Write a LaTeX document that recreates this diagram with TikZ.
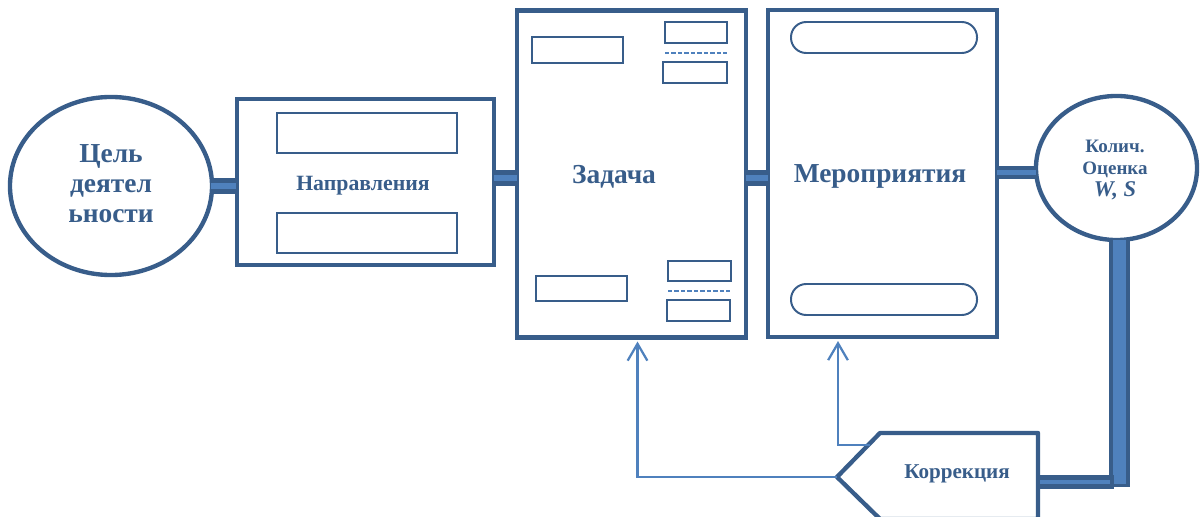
\documentclass[tikz,border=0pt]{standalone}
\usepackage{fontspec}
\setmainfont{Liberation Serif}
\usetikzlibrary{shapes.geometric,arrows.meta,calc}
\definecolor{dk}{RGB}{56,93,138}
\definecolor{lt}{RGB}{79,129,189}
\begin{document}
\begin{tikzpicture}[x=0.025cm,y=-0.025cm,
  bigbox/.style={draw=dk,line width=3.1pt,rectangle,inner sep=0pt,outer sep=0pt},
  bigell/.style={draw=dk,line width=3.1pt,ellipse,inner sep=0pt,outer sep=0pt},
  smallbox/.style={draw=dk,line width=1pt},
  pill/.style={draw=dk,line width=1.4pt,rounded corners=0.38cm},
  dashln/.style={draw=lt,line width=1.5pt,dash pattern=on 3pt off 1.6pt},
  barout/.style={draw=dk,line width=11.5pt},
  barin/.style={draw=lt,line width=4.8pt},
  arr/.style={draw=lt,line width=1.6pt,-{Straight Barb[length=12pt,width=14pt,line width=1.6pt]}},
  lbl/.style={text=dk,font=\bfseries,align=center,inner sep=0pt}]
\useasboundingbox (0,0) rectangle (1200,517);
\clip (0,0) rectangle (1200,517);

% main shapes
\node[bigell,minimum width=5.05cm,minimum height=4.45cm] (cel) at (111,186) {};
\node[bigbox,minimum width=6.425cm,minimum height=4.15cm] (napr) at (365.5,182) {};
\node[bigbox,minimum width=5.725cm,minimum height=8.175cm] (zad) at (631.5,174) {};
\node[bigbox,minimum width=5.725cm,minimum height=8.175cm] (mer) at (882.5,173.5) {};
\node[bigell,minimum width=4.025cm,minimum height=3.6cm] (ocen) at (1116.5,168) {};

% correction pentagon
\draw[dk,line width=3.1pt,line join=round] (837,477) -- (880,433) -- (1038,433) -- (1038,519) -- (880,519) -- cycle;
\coordinate (kortip) at (837,477);
\coordinate (kortop) at (870,445);
\coordinate (korright) at (1038,482);

% inner boxes of Направления
\draw[smallbox] (277,113) rectangle (457,153);
\draw[smallbox] (277,213) rectangle (457,253);

% inner boxes of Задача
\draw[smallbox] (532,37) rectangle (623,63);
\draw[smallbox] (665,22) rectangle (727,43);
\draw[dashln] (665,53) -- (727,53);
\draw[smallbox] (663,62) rectangle (727,83);
\draw[smallbox] (536,276) rectangle (627,301);
\draw[smallbox] (668,261) rectangle (731,281);
\draw[dashln] (668,291) -- (731,291);
\draw[smallbox] (667,300) rectangle (730,321);

% pills of Мероприятия
\draw[pill] (791,22) rectangle (977,53);
\draw[pill] (791,284) rectangle (977,315);

% thick connectors
\draw[barout] (cel.east) -- (cel.east -| napr.west);
\draw[barin] ($(cel.east)+(-1,0)$) -- ($(cel.east -| napr.west)+(-1,0)$);
\draw[barout] ($(napr.east)+(0,-4)$) -- ($(napr.east -| zad.west)+(0,-4)$);
\draw[barin] ($(napr.east)+(0,-4)$) -- ($(napr.east -| zad.west)+(0,-4)$);
\draw[barout] ($(zad.east)+(0,4)$) -- ($(zad.east -| mer.west)+(0,4)$);
\draw[barin] ($(zad.east)+(0,4)$) -- ($(zad.east -| mer.west)+(0,4)$);
\draw[barout,line width=9.5pt] ($(mer.east)+(0,-1)$) -- ($(mer.east -| ocen.west)+(0,-1)$);
\draw[barin,line width=3.5pt] ($(mer.east)+(0,-1)$) -- ($(mer.east -| ocen.west)+(0,-1)$);

% Оценка -> Коррекция elbow
\draw[draw=dk,line width=15.5pt] ($(ocen.south)+(3,-2)$) -- ++(0,249);
\draw[draw=lt,line width=9.5pt] ($(ocen.south)+(3,0)$) -- ++(0,244);
\draw[draw=dk,line width=9.5pt] (korright) -- ($(korright)+(76,0)$);
\draw[draw=lt,line width=3pt] ($(korright)+(2,0)$) -- ($(korright)+(72,0)$);

% feedback arrows
\draw[arr] (kortip) -| ($(zad.south)+(6,4)$);
\draw[arr] (kortop) -| ($(mer.south)+(-44.5,4)$);

% labels
\node[lbl,font=\bfseries\fontsize{19.5}{21.3}\selectfont] at (111,184) {Цель\\деятел\\ьности};
\node[lbl,font=\bfseries\fontsize{15.5}{18}\selectfont] at (363,186) {Направления};
\node[lbl,font=\bfseries\fontsize{19.5}{22}\selectfont] at (614,177) {Задача};
\node[lbl,font=\bfseries\fontsize{19.5}{22}\selectfont] at (880,176) {Мероприятия};
\node[lbl,font=\bfseries\fontsize{13.5}{15.6}\selectfont] at (1115,170) {Колич.\\Оценка\\{\fontsize{16}{15.6}\selectfont\itshape W, S}};
\node[lbl,font=\bfseries\fontsize{15}{18}\selectfont] at (957,474) {Коррекция};
\end{tikzpicture}
\end{document}
